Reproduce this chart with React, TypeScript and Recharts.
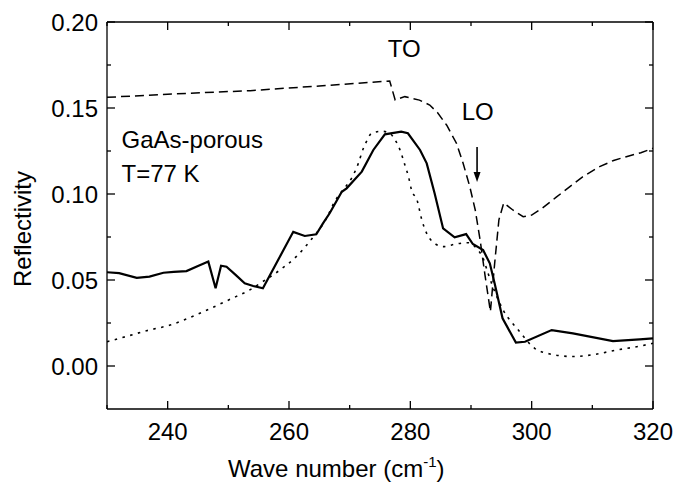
import { LineChart, Line, XAxis, YAxis, ReferenceDot, ReferenceLine } from 'recharts'

// measured spectrum (solid)
const measWave = [230, 232, 234.9, 237, 239.3, 241, 243.1, 245, 246.7, 247.9, 248.8, 249.7, 251.2, 252.7, 254.1, 255.7, 260.7, 262.6, 264.5, 265.6, 266.7, 268.7, 269.5, 272, 273.9, 275.8, 278.5, 279.6, 281.6, 282.7, 284, 285.4, 287.3, 289.2, 290.3, 292, 293.1, 293.9, 295.2, 297.4, 298.9, 303.3, 306.8, 313.4, 317.8, 320]
const measR = [0.0545, 0.054, 0.0513, 0.052, 0.0542, 0.0547, 0.0552, 0.0581, 0.0607, 0.0452, 0.0583, 0.0577, 0.053, 0.0481, 0.0465, 0.0452, 0.078, 0.0756, 0.0766, 0.0829, 0.0888, 0.1013, 0.1033, 0.113, 0.1256, 0.1347, 0.1362, 0.1353, 0.1256, 0.1178, 0.1004, 0.08, 0.0748, 0.0767, 0.0709, 0.0674, 0.0597, 0.048, 0.0277, 0.0136, 0.0141, 0.0209, 0.019, 0.0145, 0.0155, 0.0161]

// calculated, dashed
const dashWave = [230, 240, 253.6, 265, 276.6, 277.5, 279.1, 281.5, 283.2, 284.5, 286, 287.6, 288.7, 289.8, 290.7, 291.5, 292.3, 293.2, 293.9, 294.6, 295.4, 296.9, 298.6, 300, 301.8, 304, 306.3, 308.4, 311.2, 313.5, 315.6, 318, 320]
const dashR = [0.1562, 0.158, 0.1601, 0.1628, 0.1657, 0.1547, 0.1566, 0.1546, 0.1517, 0.1472, 0.14, 0.1295, 0.1179, 0.1043, 0.0907, 0.0733, 0.053, 0.0316, 0.0597, 0.085, 0.0948, 0.0907, 0.0868, 0.0877, 0.0919, 0.098, 0.1043, 0.11, 0.1159, 0.1195, 0.1217, 0.124, 0.1266]

// calculated, dotted
const dotWave = [230, 233, 236.5, 240.4, 245.9, 250.3, 253.3, 255.7, 258.5, 261.2, 263.7, 266.2, 267.5, 268.9, 270.3, 271.4, 272.2, 272.9, 273.6, 275.3, 276.6, 277.5, 278.3, 279.1, 279.7, 280.2, 281.1, 281.9, 282.7, 284, 285.4, 287.6, 289.5, 290.9, 292, 292.8, 293.6, 295.3, 297.8, 300.5, 303, 306.8, 310, 314, 317, 320]
const dotR = [0.0141, 0.017, 0.0205, 0.0238, 0.0316, 0.0388, 0.0438, 0.0491, 0.0558, 0.0636, 0.0737, 0.086, 0.0955, 0.1023, 0.1091, 0.1175, 0.126, 0.1314, 0.1353, 0.1365, 0.1353, 0.1314, 0.1256, 0.1169, 0.11, 0.1023, 0.0965, 0.0849, 0.0771, 0.0713, 0.0694, 0.071, 0.0717, 0.0684, 0.0626, 0.054, 0.0461, 0.0326, 0.0209, 0.0103, 0.007, 0.0055, 0.0065, 0.0093, 0.011, 0.0132]

const xTicks = [230, 240, 250, 260, 270, 280, 290, 300, 310, 320]
const yTicks = [0, 0.025, 0.05, 0.075, 0.1, 0.125, 0.15, 0.175, 0.2]

const toRows = (w: number[], r: number[]) => w.map((v, i) => ({ w: v, r: r[i] }))
const measured = toRows(measWave, measR)
const dashed = toRows(dashWave, dashR)
const dotted = toRows(dotWave, dotR)

const FONT = '"Liberation Sans", Arial, sans-serif'
const FS = 24
const INK = '#000'

const isMajorX = (v: number) => v % 20 === 0
const isMajorY = (v: number) => Math.round(v * 1000) % 50 === 0

const BottomTick = (props: any) => {
  const { x, y, payload } = props
  const v = payload.value
  return (
    <g>
      <line x1={x} x2={x} y1={y} y2={y - (isMajorX(v) ? 8 : 4)} stroke={INK} strokeWidth={1.3} />
      {isMajorX(v) && v !== 230 && (
        <text x={x} y={y + 31} textAnchor="middle" fontSize={FS} fontFamily={FONT} fill={INK}>{v}</text>
      )}
    </g>
  )
}

const TopTick = (props: any) => {
  const { x, y, payload } = props
  return <line x1={x} x2={x} y1={y} y2={y + (isMajorX(payload.value) ? 8 : 4)} stroke={INK} strokeWidth={1.3} />
}

const LeftTick = (props: any) => {
  const { x, y, payload } = props
  const v = payload.value
  return (
    <g>
      <line x1={x} x2={x + (isMajorY(v) ? 8 : 4)} y1={y} y2={y} stroke={INK} strokeWidth={1.3} />
      {isMajorY(v) && (
        <text x={x - 9} y={y + 9} textAnchor="end" fontSize={FS} fontFamily={FONT} fill={INK}>{v.toFixed(2)}</text>
      )}
    </g>
  )
}

const RightTick = (props: any) => {
  const { x, y, payload } = props
  return <line x1={x} x2={x - (isMajorY(payload.value) ? 8 : 4)} y1={y} y2={y} stroke={INK} strokeWidth={1.3} />
}

const XTitle = (props: any) => {
  const vb = props.viewBox || { x: 107, y: 409 }
  return (
    <text x={vb.x + 121} y={vb.y + 68} fontSize={FS} fontFamily={FONT} fill={INK}>
      Wave number (cm<tspan fontSize={15} dy={-10}>-1</tspan><tspan dy={10}>)</tspan>
    </text>
  )
}

const YTitle = () => (
  <text x={31} y={229} transform="rotate(-90 31 229)" textAnchor="middle" fontSize={FS} fontFamily={FONT} fill={INK}>
    Reflectivity
  </text>
)

const textShape = (label: string, anchor: 'start' | 'middle') => (p: any) => (
  <text x={p.cx} y={p.cy} textAnchor={anchor} fontSize={FS} fontFamily={FONT} fill={INK}>{label}</text>
)

const Arrow = (p: any) => {
  const { x1, y1, x2, y2 } = p
  const top = Math.min(y1, y2)
  const tip = Math.max(y1, y2)
  return (
    <g>
      <line x1={x1} x2={x2} y1={top} y2={tip - 8} stroke={INK} strokeWidth={1.6} />
      <polygon points={`${x1 - 3.5},${tip - 10} ${x1 + 3.5},${tip - 10} ${x1},${tip}`} fill={INK} />
    </g>
  )
}

export default function App() {
  return (
    <div style={{ position: 'absolute', left: 0, top: 0, background: '#fff' }}>
      <LineChart width={677} height={483} margin={{ top: 22, right: 24, bottom: 0, left: 0 }}>
        <XAxis
          xAxisId="b" type="number" dataKey="w" domain={[230, 320]} ticks={xTicks} interval={0}
          height={74} tickSize={0} tickMargin={0} tickLine={false}
          axisLine={{ stroke: INK, strokeWidth: 1.3 }} tick={<BottomTick />} label={<XTitle />}
          allowDataOverflow
        />
        <XAxis
          xAxisId="t" orientation="top" mirror type="number" dataKey="w" domain={[230, 320]} ticks={xTicks} interval={0}
          tickSize={0} tickMargin={0} tickLine={false}
          axisLine={{ stroke: INK, strokeWidth: 1.3 }} tick={<TopTick />} allowDataOverflow
        />
        <YAxis
          yAxisId="l" type="number" domain={[-0.025, 0.2]} ticks={yTicks} interval={0} width={107}
          tickSize={0} tickMargin={0} tickLine={false}
          axisLine={{ stroke: INK, strokeWidth: 1.3 }} tick={<LeftTick />} label={<YTitle />}
          allowDataOverflow
        />
        <YAxis
          yAxisId="r" orientation="right" mirror type="number" domain={[-0.025, 0.2]} ticks={yTicks} interval={0}
          tickSize={0} tickMargin={0} tickLine={false}
          axisLine={{ stroke: INK, strokeWidth: 1.3 }} tick={<RightTick />} allowDataOverflow
        />
        <Line xAxisId="b" yAxisId="l" data={dotted} dataKey="r" type="monotone" stroke={INK} strokeWidth={1.6}
          strokeDasharray="2.5 5.5" dot={false} activeDot={false} isAnimationActive={false} />
        <Line xAxisId="b" yAxisId="l" data={dashed} dataKey="r" type="linear" stroke={INK} strokeWidth={1.5}
          strokeDasharray="9 5" dot={false} activeDot={false} isAnimationActive={false} />
        <Line xAxisId="b" yAxisId="l" data={measured} dataKey="r" type="linear" stroke={INK} strokeWidth={2.2}
          dot={false} activeDot={false} isAnimationActive={false} />
        <ReferenceDot xAxisId="b" yAxisId="l" x={279} y={0.1798} shape={textShape('TO', 'middle')} />
        <ReferenceDot xAxisId="b" yAxisId="l" x={291.1} y={0.143} shape={textShape('LO', 'middle')} />
        <ReferenceDot xAxisId="b" yAxisId="l" x={232.4} y={0.1266} shape={textShape('GaAs-porous', 'start')} />
        <ReferenceDot xAxisId="b" yAxisId="l" x={232.4} y={0.1071} shape={textShape('T=77 K', 'start')} />
        <ReferenceLine xAxisId="b" yAxisId="l" segment={[{ x: 291, y: 0.1273 }, { x: 291, y: 0.107 }]} shape={<Arrow />} />
      </LineChart>
    </div>
  )
}
